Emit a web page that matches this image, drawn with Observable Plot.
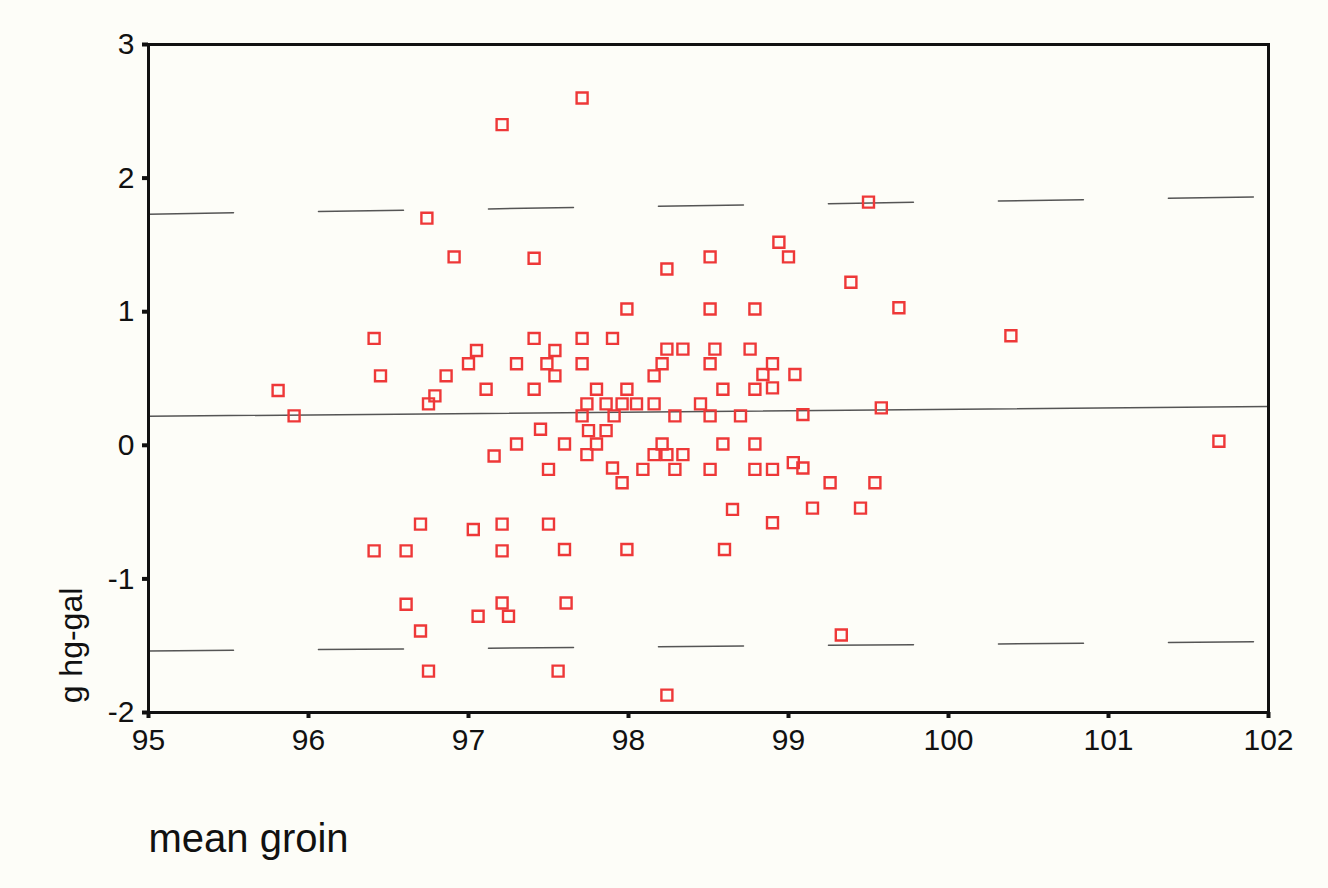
<!DOCTYPE html>
<html>
<head>
<meta charset="utf-8">
<script src="https://cdn.jsdelivr.net/npm/d3@7"></script>
<script src="https://cdn.jsdelivr.net/npm/@observablehq/plot@0.6"></script>
<style>
  html, body { margin: 0; padding: 0; background: #fdfdf8; }
  #chart { width: 1328px; height: 888px; }
</style>
</head>
<body>
<div id="chart"></div>
<script>
// ---- data ----
const meanGroin = [
  97.71, 97.21, 96.74, 99.50, 98.94, 99.00, 96.91, 97.41, 98.51, 98.24,
  99.39, 97.99, 98.51, 98.79, 99.69, 100.39, 96.41, 97.41, 97.71, 97.90,
  97.05, 97.00, 97.30, 97.54, 97.49, 97.71, 98.24, 98.34, 98.54, 98.76,
  98.21, 98.51, 98.90, 96.45, 96.86, 97.54, 98.16, 98.84, 99.04, 95.81,
  96.79, 96.75, 97.11, 97.41, 97.80, 97.99, 98.59, 98.79, 98.90, 95.91,
  97.74, 97.86, 97.96, 98.05, 98.16, 98.45, 97.71, 97.91, 98.29, 98.51,
  98.70, 99.09, 99.58, 97.75, 97.86, 97.45, 101.69, 97.30, 97.60, 97.80,
  98.21, 98.59, 98.79, 97.16, 97.74, 98.16, 98.24, 98.34, 97.50, 97.90,
  98.09, 98.29, 98.51, 98.79, 98.90, 99.03, 99.09, 97.96, 99.26, 99.54,
  98.65, 99.15, 99.45, 96.70, 97.03, 97.21, 97.50, 98.90, 96.41, 96.61,
  97.21, 97.60, 97.99, 98.60, 96.61, 97.21, 97.25, 97.06, 97.61, 96.70,
  99.33, 96.75, 97.56, 98.24
];
const hgMinusGal = [
  2.60, 2.40, 1.70, 1.82, 1.52, 1.41, 1.41, 1.40, 1.41, 1.32,
  1.22, 1.02, 1.02, 1.02, 1.03, 0.82, 0.80, 0.80, 0.80, 0.80,
  0.71, 0.61, 0.61, 0.71, 0.61, 0.61, 0.72, 0.72, 0.72, 0.72,
  0.61, 0.61, 0.61, 0.52, 0.52, 0.52, 0.52, 0.53, 0.53, 0.41,
  0.37, 0.31, 0.42, 0.42, 0.42, 0.42, 0.42, 0.42, 0.43, 0.22,
  0.31, 0.31, 0.31, 0.31, 0.31, 0.31, 0.22, 0.22, 0.22, 0.22,
  0.22, 0.23, 0.28, 0.11, 0.11, 0.12, 0.03, 0.01, 0.01, 0.01,
  0.01, 0.01, 0.01, -0.08, -0.07, -0.07, -0.07, -0.07, -0.18, -0.17,
  -0.18, -0.18, -0.18, -0.18, -0.18, -0.13, -0.17, -0.28, -0.28, -0.28,
  -0.48, -0.47, -0.47, -0.59, -0.63, -0.59, -0.59, -0.58, -0.79, -0.79,
  -0.79, -0.78, -0.78, -0.78, -1.19, -1.18, -1.28, -1.28, -1.18, -1.39,
  -1.42, -1.69, -1.69, -1.87
];
const lineX = [95, 102];
const meanLineY = [0.217, 0.29];
const upperLimitY = [1.73, 1.86];
const lowerLimitY = [-1.54, -1.47];
const xTicks = [95, 96, 97, 98, 99, 100, 101, 102];
const yTicks = [-2, -1, 0, 1, 2, 3];
const xLabel = "mean groin";
const yLabel = "g hg-gal";

// ---- tables built from the arrays ----
const points = meanGroin.map((x, i) => ({x, y: hgMinusGal[i]}));
const toRows = (ys) => lineX.map((x, i) => ({x, y: ys[i]}));

const chart = Plot.plot({
  width: 1328,
  height: 888,
  marginTop: 44,
  marginLeft: 148,
  marginRight: 60,
  marginBottom: 176,
  style: {
    fontFamily: "'Liberation Sans', Arial, sans-serif",
    background: "transparent",
    color: "#111"
  },
  x: {domain: [95, 102]},
  y: {domain: [-2, 3]},
  marks: [
    Plot.line(toRows(upperLimitY), {x: "x", y: "y", stroke: "#555", strokeWidth: 1.5, strokeDasharray: "85,85"}),
    Plot.line(toRows(lowerLimitY), {x: "x", y: "y", stroke: "#555", strokeWidth: 1.5, strokeDasharray: "85,85"}),
    Plot.line(toRows(meanLineY), {x: "x", y: "y", stroke: "#555", strokeWidth: 1.5}),
    Plot.dot(points, {x: "x", y: "y", symbol: "square", r: 6.2, stroke: "#ee3838", strokeWidth: 2.4, fill: "none"}),
    Plot.frame({stroke: "#111", strokeWidth: 3}),
    Plot.axisX({ticks: xTicks, tickFormat: d => String(d), tickSize: 6, tickPadding: 10, fontSize: 30, strokeWidth: 4, label: null}),
    Plot.axisY({ticks: yTicks, tickFormat: d => String(d), tickSize: 6, tickPadding: 8, fontSize: 30, strokeWidth: 4, label: null}),
    Plot.text([xLabel], {text: d => d, frameAnchor: "bottom-left", textAnchor: "start", dy: 139, fontSize: 40, fill: "#111"}),
    Plot.text([yLabel], {text: d => d, frameAnchor: "left", textAnchor: "middle", rotate: -90, dx: -77, dy: 267, fontSize: 32, fill: "#111"})
  ]
});
document.getElementById("chart").appendChild(chart);
</script>
</body>
</html>
